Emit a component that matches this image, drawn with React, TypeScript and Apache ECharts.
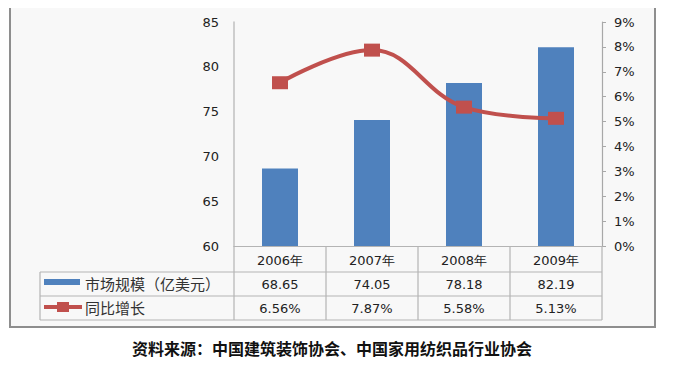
import React, { useEffect, useRef } from "react";
import * as echarts from "echarts";

const categories = ["2006年", "2007年", "2008年", "2009年"];
const marketSize = [68.65, 74.05, 78.18, 82.19];
const growth = [6.56, 7.87, 5.58, 5.13];
const marketLabels = ["68.65", "74.05", "78.18", "82.19"];
const growthLabels = ["6.56%", "7.87%", "5.58%", "5.13%"];
const seriesNames = ["市场规模（亿美元）", "同比增长"];
const sourceText = "资料来源：中国建筑装饰协会、中国家用纺织品行业协会";

const BLUE = "#4f81bd";
const RED = "#c0504d";
const GRID_L = 234;
const GRID_R = 602;
const GRID_T = 22;
const GRID_B = 246;
const ROW1 = 272;
const ROW2 = 296;
const ROW3 = 320;
const TABLE_L = 40;
const LINE_C = "#b4b4b4";
const TXT = "#222";
const NUM_FONT = "'DejaVu Sans', Verdana, sans-serif";
const CJK_FONT = "'Noto Sans CJK SC', sans-serif";

export default function App() {
  const ref = useRef<HTMLDivElement>(null);
  useEffect(() => {
    if (!ref.current) return;
    const chart = echarts.init(ref.current, undefined, { renderer: "svg" });
    const colW = (GRID_R - GRID_L) / categories.length;
    const graphics: any[] = [];
    graphics.push({
      type: "rect",
      z: -10,
      silent: true,
      shape: { x: 10, y: 6, width: 645, height: 321 },
      style: { fill: "#f8f8f8", stroke: "#8e8e8e", lineWidth: 2 },
    });
    [ROW1, ROW2, ROW3].forEach((y) => {
      graphics.push({
        type: "line",
        z: 1,
        shape: { x1: TABLE_L, y1: y, x2: GRID_R, y2: y },
        style: { stroke: LINE_C, lineWidth: 1.2 },
      });
    });
    graphics.push({
      type: "line",
      z: 1,
      shape: { x1: TABLE_L, y1: ROW1, x2: TABLE_L, y2: ROW3 },
      style: { stroke: LINE_C, lineWidth: 1.2 },
    });
    for (let i = 0; i <= categories.length; i++) {
      const x = GRID_L + colW * i;
      graphics.push({
        type: "line",
        z: 1,
        shape: { x1: x, y1: GRID_B, x2: x, y2: ROW3 },
        style: { stroke: LINE_C, lineWidth: 1.2 },
      });
    }
    categories.forEach((_, i) => {
      const cx = GRID_L + colW * (i + 0.5);
      graphics.push({
        type: "text",
        z: 2,
        x: cx,
        y: (ROW1 + ROW2) / 2,
        style: {
          text: marketLabels[i],
          fill: TXT,
          font: `13px ${NUM_FONT}`,
          align: "center",
          verticalAlign: "middle",
        },
      });
      graphics.push({
        type: "text",
        z: 2,
        x: cx,
        y: (ROW2 + ROW3) / 2,
        style: {
          text: growthLabels[i],
          fill: TXT,
          font: `13px ${NUM_FONT}`,
          align: "center",
          verticalAlign: "middle",
        },
      });
    });
    graphics.push({
      type: "rect",
      z: 2,
      shape: { x: 44, y: 279, width: 36, height: 6 },
      style: { fill: BLUE },
    });
    graphics.push({
      type: "text",
      z: 2,
      x: 85,
      y: 283,
      style: {
        text: seriesNames[0],
        fill: "#333",
        font: `15px ${CJK_FONT}`,
        verticalAlign: "middle",
      },
    });
    graphics.push({
      type: "line",
      z: 2,
      shape: { x1: 44, y1: 307, x2: 82, y2: 307 },
      style: { stroke: RED, lineWidth: 4 },
    });
    graphics.push({
      type: "rect",
      z: 3,
      shape: { x: 57, y: 302, width: 12, height: 10 },
      style: { fill: RED },
    });
    graphics.push({
      type: "text",
      z: 2,
      x: 85,
      y: 307,
      style: {
        text: seriesNames[1],
        fill: "#333",
        font: `15px ${CJK_FONT}`,
        verticalAlign: "middle",
      },
    });
    graphics.push({
      type: "text",
      z: 2,
      x: 332,
      y: 348,
      style: {
        text: sourceText,
        fill: "#111",
        font: `bold 16px ${CJK_FONT}`,
        align: "center",
        verticalAlign: "middle",
      },
    });

    chart.setOption({
      animation: false,
      backgroundColor: "#ffffff",
      grid: {
        left: GRID_L,
        right: 675 - GRID_R,
        top: GRID_T,
        bottom: 365 - GRID_B,
        containLabel: false,
      },
      xAxis: {
        type: "category",
        data: categories,
        axisLine: { show: true, lineStyle: { color: LINE_C, width: 1.2 } },
        axisTick: { show: false },
        axisLabel: {
          margin: 8,
          color: TXT,
          fontSize: 13,
          fontFamily: NUM_FONT,
        },
      },
      yAxis: [
        {
          type: "value",
          min: 60,
          max: 85,
          interval: 5,
          axisLine: { show: true, lineStyle: { color: "#c0c0c0", width: 1.5 } },
          axisTick: { show: false },
          splitLine: { show: false },
          axisLabel: {
            margin: 15,
            color: TXT,
            fontSize: 13,
            fontFamily: NUM_FONT,
          },
        },
        {
          type: "value",
          min: 0,
          max: 9,
          interval: 1,
          position: "right",
          axisLine: { show: true, lineStyle: { color: "#a8a8a8", width: 1.2 } },
          axisTick: { show: true, length: 4, lineStyle: { color: "#a8a8a8" } },
          splitLine: { show: false },
          axisLabel: {
            margin: 12,
            color: TXT,
            fontSize: 13,
            fontFamily: NUM_FONT,
            formatter: "{value}%",
          },
        },
      ],
      series: [
        {
          name: seriesNames[0],
          type: "bar",
          data: marketSize,
          barWidth: 36,
          itemStyle: { color: BLUE },
          yAxisIndex: 0,
        },
        {
          name: seriesNames[1],
          type: "line",
          data: growth,
          yAxisIndex: 1,
          smooth: 0.4,
          symbol: "rect",
          symbolSize: [16, 13],
          lineStyle: { color: RED, width: 4 },
          itemStyle: { color: RED },
          z: 5,
        },
      ],
      graphic: graphics,
    });
    return () => chart.dispose();
  }, []);
  return <div ref={ref} style={{ width: 675, height: 365, margin: -8 }} />;
}
